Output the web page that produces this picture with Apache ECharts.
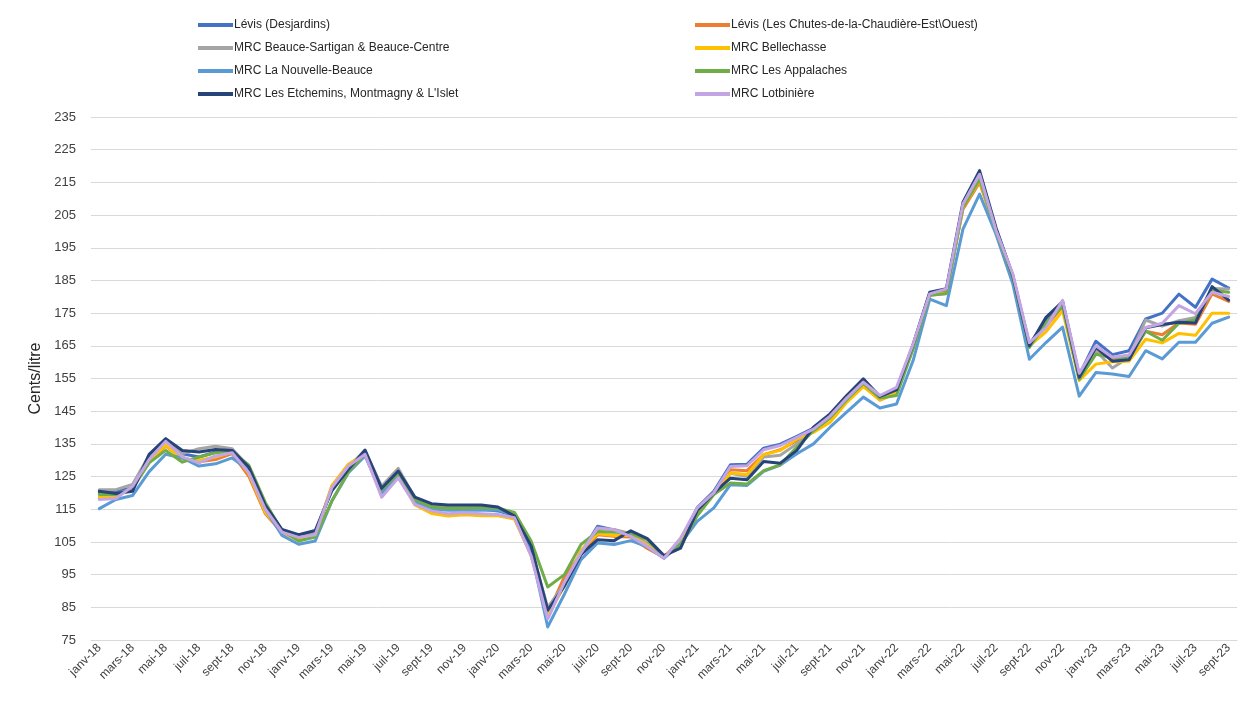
<!DOCTYPE html>
<html>
<head>
<meta charset="utf-8">
<script src="https://cdn.jsdelivr.net/npm/echarts@6/dist/echarts.min.js"></script>
<style>
  html, body { margin: 0; padding: 0; background: #fff; }
  #chart { width: 1255px; height: 704px; }
</style>
</head>
<body>
<div id="chart"></div>
<script>
// mois janv-18 .. sept-23
var months = [
  'janv-18','févr-18','mars-18','avr-18','mai-18','juin-18','juil-18','août-18','sept-18','oct-18','nov-18','déc-18',
  'janv-19','févr-19','mars-19','avr-19','mai-19','juin-19','juil-19','août-19','sept-19','oct-19','nov-19','déc-19',
  'janv-20','févr-20','mars-20','avr-20','mai-20','juin-20','juil-20','août-20','sept-20','oct-20','nov-20','déc-20',
  'janv-21','févr-21','mars-21','avr-21','mai-21','juin-21','juil-21','août-21','sept-21','oct-21','nov-21','déc-21',
  'janv-22','févr-22','mars-22','avr-22','mai-22','juin-22','juil-22','août-22','sept-22','oct-22','nov-22','déc-22',
  'janv-23','févr-23','mars-23','avr-23','mai-23','juin-23','juil-23','août-23','sept-23'
];

var levisDesjardins = [
  120,120.5,121.5,131,136,132,131,132.5,133,127.5,115.5,108.5,
  106.5,107.5,121.5,128,132.5,120,126,117.5,115.5,115,115,115,
  114.5,113,102,82.5,92,101.5,109.8,108.7,107,104,100.2,105.5,
  115.5,120.5,128.6,128.8,133.7,134.9,137.3,139.8,144,149.5,154.5,149.5,
  151.5,165,181,182,208,217.5,200.5,186.5,165.5,172.5,178.5,156,
  166.4,162.3,163.5,173.2,175,180.8,176.8,185.4,182.7
];
var levisChutes = [
  118.3,119,121.5,129.5,134.3,130.5,129.5,130.2,132,125.1,113.6,107.8,
  106,107,122,128.7,132,120,125.5,116.8,114,113.3,113.5,113.3,
  113.2,112.2,101,83,94.3,101.5,107.2,106.7,106.5,103,100.3,105.5,
  115,120,127.1,126.8,131.7,133.2,136,139,143,148.5,152.8,148.4,
  150.5,165,180.5,181.5,206.8,215,200,186,165.5,171,177,155,
  163,161,161.5,169.5,168.4,172,171.6,180.9,178.6
];
var beauceSartigan = [
  121,121,122.6,131.5,136,132,133.5,134.3,133.5,128,116,108.5,
  106.8,108,121.5,128,133,122,127.5,118.5,116,115.8,115.8,115.8,
  115.3,113,103,85,92,101.5,109,108.8,107.5,104.5,100.5,105,
  115,120,126,125,131,131.5,135,139.5,143.5,149,154,149.5,
  151,165,180.5,180.9,208,216.5,200,186,165,172,177.5,155.5,
  163.5,158.2,161.5,172.9,171,172.7,173.7,182.5,182.4
];
var bellechasse = [
  118.8,119,121.5,130,134.5,130.5,130,131,132.5,126,114,108,
  105.5,106.8,122.2,128.7,132,120,125.5,116.3,113.7,112.9,113.3,113,
  113,112,101,82.5,91.5,102.5,107.5,107,107,104,100.5,105.5,
  114,119.5,126.1,125.6,131.7,133,136.5,138.5,141.6,147.7,152.5,148.5,
  150.5,165,181,181,207.5,215.5,200,186,165,169.3,175.7,154.4,
  159.4,160.1,160.3,167,165.9,168.8,168.2,175,175
];
var nouvelleBeauce = [
  115.2,118,119.2,126.5,131.8,130.7,128.2,128.9,130.7,127,115,107,
  104.3,105.3,117.5,126.2,131.3,120,125.5,117.5,115,114.7,114.8,114.7,
  114.8,113,102,79,89,99.6,104.7,104.2,105.4,103.5,100,104.5,
  111.3,115.4,122.5,122.3,126.6,128.5,132,135,140.1,144.7,149.3,146,
  147.2,160.5,179.3,177.3,200.7,211.4,199,184,160.9,166,170.7,149.6,
  156.8,156.4,155.6,163.5,161,166.1,166.1,171.9,173.8
];
var appalaches = [
  119.5,119.5,121.4,129.2,133,129.4,131,132.3,132.6,128.5,117,108.5,
  105.3,106.5,117.5,126.5,132,121,126,118,115.7,115.3,115.3,115.5,
  115.3,114,105.3,91.2,95,104.2,108.2,108,107.5,105.7,100.5,104,
  113,119.5,123,122.7,126.8,128.6,134,139,143,148.5,153.5,149,
  149.8,164,180.5,181,207.5,216,200,186,164.5,172,177,154.8,
  162.4,161.5,161,169.5,166.7,171.9,173,182,181.4
];
var etchemins = [
  120.5,119.8,120.5,131.8,136.6,133,132.5,133.3,133,127.9,116.2,108.8,
  107.2,108.5,120.6,127.2,133.1,121.4,126.7,118.7,116.7,116.3,116.3,116.3,
  115.7,112.9,103.8,84.1,91.5,101.1,105.7,105.4,108.4,106,100.8,103.1,
  114.6,120,124.5,124,129.6,129.1,133,140.1,144.2,149.8,154.9,149.5,
  151.5,165.5,181.4,182.5,208.9,218.6,201,186.5,165,173.7,178.5,155.4,
  164.5,160.3,160.7,170.5,171.5,172.2,172,183.1,179
];
var lotbiniere = [
  118,118.3,122,130.2,135.8,131,129.2,131.3,132.3,126.2,115,108,
  106.4,107.2,121.6,128.2,131.8,118.7,124.6,116.5,114.5,113.6,113.9,113.6,
  113.4,112.4,100.7,81.4,92.6,101.6,109.3,108.7,106.7,103.6,100,106.2,
  115.4,120,128.1,128.3,133.2,134.5,137,139.5,143.5,149,153.9,149.8,
  152.3,165.6,180.9,182.4,208.4,217.5,200.2,187,166,170.6,178.9,156.6,
  165,161.5,162.2,170.6,171.9,177.3,174.8,181.4,180.1
];

var seriesNames = [
  'Lévis (Desjardins)',
  'Lévis (Les Chutes-de-la-Chaudière-Est\\Ouest)',
  'MRC Beauce-Sartigan & Beauce-Centre',
  'MRC Bellechasse',
  'MRC La Nouvelle-Beauce',
  'MRC Les Appalaches',
  "MRC Les Etchemins, Montmagny & L'Islet",
  'MRC Lotbinière'
];
var seriesData = [levisDesjardins, levisChutes, beauceSartigan, bellechasse,
  nouvelleBeauce, appalaches, etchemins, lotbiniere];
var colors = ['#4472C4', '#ED7D31', '#A5A5A5', '#FFC000', '#5B9BD5', '#70AD47', '#264478', '#C4A5E3'];

var font = "'Liberation Sans Narrow', 'Liberation Sans', sans-serif";

var series = [];
for (var i = 0; i < seriesNames.length; i++) {
  series.push({
    name: seriesNames[i],
    type: 'line',
    data: seriesData[i],
    symbol: 'none',
    lineStyle: { width: 3, color: colors[i], join: 'round', cap: 'round' },
    itemStyle: { color: colors[i] }
  });
}

var legendCommon = {
  orient: 'vertical',
  top: 13,
  icon: 'rect',
  itemWidth: 35,
  itemHeight: 4,
  itemGap: 9,
  textStyle: { fontFamily: font, fontSize: 12, color: '#262626', lineHeight: 14, padding: [0, 0, 0, -4] }
};

var option = {
  color: colors,
  animation: false,
  legend: [
    Object.assign({}, legendCommon, { left: 193, data: [seriesNames[0], seriesNames[2], seriesNames[4], seriesNames[6]] }),
    Object.assign({}, legendCommon, { left: 690, data: [seriesNames[1], seriesNames[3], seriesNames[5], seriesNames[7]] })
  ],
  grid: { left: 91, right: 18, top: 117, bottom: 64, containLabel: false },
  xAxis: {
    type: 'category',
    data: months,
    boundaryGap: true,
    axisLine: { lineStyle: { color: '#d9d9d9', width: 1 } },
    axisTick: { interval: 1, length: 5, lineStyle: { color: '#d9d9d9' } },
    axisLabel: { interval: 1, rotate: 45, fontFamily: font, fontSize: 12, color: '#404040', margin: 6 }
  },
  yAxis: {
    type: 'value',
    min: 75,
    max: 235,
    interval: 10,
    name: 'Cents/litre',
    nameLocation: 'middle',
    nameGap: 43,
    nameTextStyle: { fontFamily: font, fontSize: 16, color: '#262626' },
    axisLine: { show: false },
    axisTick: { show: false },
    axisLabel: { fontFamily: font, fontSize: 13, color: '#404040', margin: 15 },
    splitLine: { lineStyle: { color: '#d9d9d9', width: 1 } }
  },
  series: series
};

var chart = echarts.init(document.getElementById('chart'));
chart.setOption(option);
</script>
</body>
</html>
